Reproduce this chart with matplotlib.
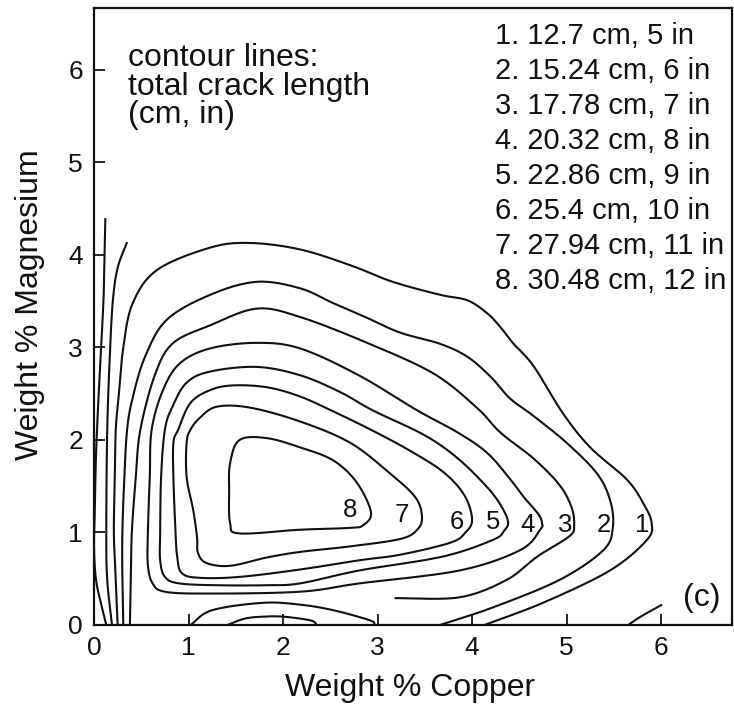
import numpy as np
import matplotlib
matplotlib.use("Agg")
import matplotlib.pyplot as plt

plt.rcParams['font.family'] = ['Liberation Sans', 'DejaVu Sans']

# Contour lines of total crack length, traced as (Cu wt%, Mg wt%) pairs
edge_a = [(0.12, 4.40), (0.11, 3.90), (0.10, 3.50), (0.07, 2.90), (0.04, 2.30),
          (0.02, 1.80), (0.01, 1.30), (0.00, 0.85), (0.02, 0.50), (0.07, 0.25), (0.13, 0.00)]
edge_b = [(0.35, 4.14), (0.25, 3.86), (0.20, 3.51), (0.17, 2.97), (0.14, 2.11),
          (0.13, 1.00), (0.14, 0.49), (0.19, 0.00)]

level_1 = [(0.25, 0.00), (0.23, 0.50), (0.21, 1.00), (0.22, 1.57), (0.23, 2.11), (0.26, 2.46),
           (0.31, 3.00), (0.41, 3.48), (0.67, 3.84), (1.23, 4.08), (1.65, 4.13), (2.18, 4.06),
           (2.71, 3.89), (3.16, 3.71), (3.66, 3.57), (3.95, 3.51), (4.16, 3.37), (4.30, 3.22),
           (4.43, 3.05), (4.65, 2.80), (4.96, 2.29), (5.25, 1.92), (5.64, 1.57), (5.82, 1.30),
           (5.90, 1.10), (5.85, 0.92), (5.46, 0.59), (4.75, 0.24), (4.13, 0.00)]
level_2 = [(0.31, 0.00), (0.30, 0.50), (0.30, 1.00), (0.32, 1.57), (0.35, 2.11), (0.41, 2.46),
           (0.54, 2.90), (0.77, 3.30), (1.23, 3.57), (1.72, 3.71), (2.18, 3.64), (2.53, 3.48),
           (2.89, 3.32), (3.24, 3.16), (3.66, 3.04), (3.95, 2.90), (4.20, 2.68), (4.40, 2.45),
           (4.65, 2.26), (5.00, 1.97), (5.32, 1.64), (5.46, 1.35), (5.49, 1.06), (5.39, 0.81),
           (4.93, 0.49), (4.22, 0.19), (3.66, 0.00)]
level_3 = [(0.38, 0.00), (0.39, 0.50), (0.40, 1.00), (0.44, 1.57), (0.49, 2.11), (0.65, 2.72),
           (0.84, 3.05), (1.23, 3.24), (1.72, 3.42), (2.18, 3.33), (2.89, 3.05), (3.59, 2.72),
           (4.05, 2.35), (4.30, 2.08), (4.65, 1.80), (4.92, 1.52), (5.05, 1.28), (5.08, 1.08),
           (5.03, 0.96), (4.69, 0.74), (4.37, 0.49), (3.87, 0.30), (3.18, 0.29)]
level_4 = [(1.23, 2.99), (1.72, 3.05), (2.18, 2.99), (2.80, 2.70), (3.42, 2.32), (3.85, 2.08),
           (4.16, 1.86), (4.40, 1.58), (4.55, 1.38), (4.70, 1.20), (4.74, 1.10), (4.72, 1.03),
           (4.51, 0.81), (3.87, 0.59), (2.81, 0.45), (2.18, 0.36), (1.20, 0.34), (0.75, 0.36),
           (0.62, 0.45), (0.57, 0.65), (0.57, 1.00), (0.59, 1.60), (0.61, 2.11), (0.73, 2.54),
           (0.91, 2.83), (1.23, 2.99)]
level_5 = [(1.23, 2.74), (1.72, 2.79), (2.18, 2.70), (2.60, 2.52), (2.95, 2.32), (3.50, 2.05),
           (3.85, 1.80), (4.15, 1.50), (4.30, 1.30), (4.38, 1.12), (4.34, 1.02), (4.22, 0.92),
           (3.69, 0.74), (2.81, 0.59), (2.18, 0.45), (1.83, 0.43), (1.30, 0.43), (0.90, 0.45),
           (0.75, 0.52), (0.70, 0.70), (0.70, 1.00), (0.71, 1.60), (0.75, 2.11), (0.83, 2.36),
           (0.98, 2.62), (1.23, 2.74)]
level_6 = [(1.47, 2.59), (1.83, 2.57), (2.18, 2.47), (2.55, 2.30), (2.95, 2.10), (3.35, 1.88),
           (3.70, 1.65), (3.92, 1.40), (4.00, 1.14), (3.93, 1.00), (3.77, 0.89), (3.24, 0.76),
           (2.81, 0.70), (2.18, 0.60), (1.54, 0.52), (1.12, 0.51), (0.93, 0.56), (0.88, 0.74),
           (0.86, 1.06), (0.84, 1.60), (0.84, 1.97), (0.89, 2.11), (1.02, 2.40), (1.23, 2.54),
           (1.47, 2.59)]
level_7 = [(1.30, 2.36), (1.65, 2.35), (2.18, 2.20), (2.71, 1.97), (3.13, 1.64), (3.40, 1.38),
           (3.47, 1.17), (3.42, 1.03), (3.24, 0.93), (2.71, 0.85), (2.18, 0.79), (1.83, 0.73),
           (1.44, 0.64), (1.19, 0.67), (1.10, 0.78), (1.09, 0.95), (1.05, 1.24), (0.98, 1.60),
           (0.98, 1.97), (1.02, 2.11), (1.12, 2.24), (1.30, 2.36)]
level_8 = [(1.54, 2.00), (1.83, 2.02), (2.18, 1.92), (2.53, 1.78), (2.78, 1.54), (2.93, 1.22),
           (2.85, 1.08), (2.71, 1.05), (2.18, 1.03), (1.54, 0.99), (1.44, 1.10), (1.43, 1.45),
           (1.44, 1.75), (1.54, 2.00)]
hump_outer = [(1.02, 0.00), (1.25, 0.16), (1.79, 0.24), (2.18, 0.22), (2.53, 0.16),
              (2.92, 0.05), (2.97, 0.00)]
hump_inner = [(1.41, 0.00), (1.60, 0.07), (1.79, 0.09), (2.00, 0.09), (2.29, 0.05), (2.36, 0.00)]
corner_right = [(5.65, 0.00), (5.80, 0.10), (6.01, 0.22)]

closed_levels = [level_4, level_5, level_6, level_7, level_8]
open_lines = [edge_a, edge_b, level_1, level_2, level_3, hump_outer, hump_inner, corner_right]

# Contour numbers and where they are written
label_text = ['1', '2', '3', '4', '5', '6', '7', '8']
label_cu = [5.80, 5.39, 4.98, 4.59, 4.22, 3.84, 3.26, 2.71]
label_mg = [1.08, 1.08, 1.08, 1.08, 1.11, 1.11, 1.19, 1.24]

legend_lines = ['1. 12.7 cm, 5 in', '2. 15.24 cm, 6 in', '3. 17.78 cm, 7 in',
                '4. 20.32 cm, 8 in', '5. 22.86 cm, 9 in', '6. 25.4 cm, 10 in',
                '7. 27.94 cm, 11 in', '8. 30.48 cm, 12 in']
ticks = [0, 1, 2, 3, 4, 5, 6]


def smooth(points, closed=False, n=14):
    """Catmull-Rom pass through the traced points for a smooth stroke."""
    p = np.asarray(points, float)
    if closed:
        p = np.vstack([p[-2], p, p[1]])
    else:
        p = np.vstack([2 * p[0] - p[1], p, 2 * p[-1] - p[-2]])
    t = np.linspace(0, 1, n, endpoint=False)[:, None]
    out = []
    for i in range(1, len(p) - 2):
        p0, p1, p2, p3 = p[i - 1], p[i], p[i + 1], p[i + 2]
        out.append(0.5 * (2 * p1 + (-p0 + p2) * t
                          + (2 * p0 - 5 * p1 + 4 * p2 - p3) * t ** 2
                          + (-p0 + 3 * p1 - 3 * p2 + p3) * t ** 3))
    out.append(p[-2][None])
    return np.vstack(out)


W, H = 734, 708
fig = plt.figure(figsize=(W / 100, H / 100), dpi=100)
ax = fig.add_axes([94 / W, 83 / H, 638 / W, 617 / H])
ax.set_xlim(0, 6.75)
ax.set_ylim(0, 6.67)

ink = '#111111'
for line in open_lines:
    s = smooth(line)
    ax.plot(s[:, 0], s[:, 1], color=ink, lw=1.5, solid_capstyle='butt',
            solid_joinstyle='round', clip_on=True)
for line in closed_levels:
    s = smooth(line, closed=True)
    ax.fill(s[:, 0], s[:, 1], facecolor='none', edgecolor=ink, lw=1.5, joinstyle='round')

for t, x, y in zip(label_text, label_cu, label_mg):
    ax.text(x, y, t, ha='center', va='center', fontsize=18.5, color=ink)

# Notes inside the frame
ax.text(0.36, 5.82, 'contour lines:\ntotal crack length\n(cm, in)', fontsize=23,
        ha='left', va='center', color=ink, linespacing=0.92)
for i, s in enumerate(legend_lines):
    ax.text(4.24, 6.37 - 0.378 * i, s, fontsize=21, ha='left', va='center', color=ink)
ax.text(6.43, 0.29, '(c)', fontsize=23, ha='center', va='center', color=ink)

ax.set_xticks(ticks)
ax.set_yticks(ticks)
ax.tick_params(direction='in', length=8, width=1.3, labelsize=19, pad=8,
               top=False, right=False, colors=ink)
for sp in ax.spines.values():
    sp.set_linewidth(1.6)
    sp.set_color(ink)

fig.text(410 / W, 1 - 688 / H, 'Weight % Copper', fontsize=23, ha='center', va='center', color=ink)
fig.text(30 / W, 1 - 305 / H, 'Weight % Magnesium', fontsize=23, ha='center', va='center',
         rotation=90, color=ink)

fig.savefig('out.png', dpi=100)
